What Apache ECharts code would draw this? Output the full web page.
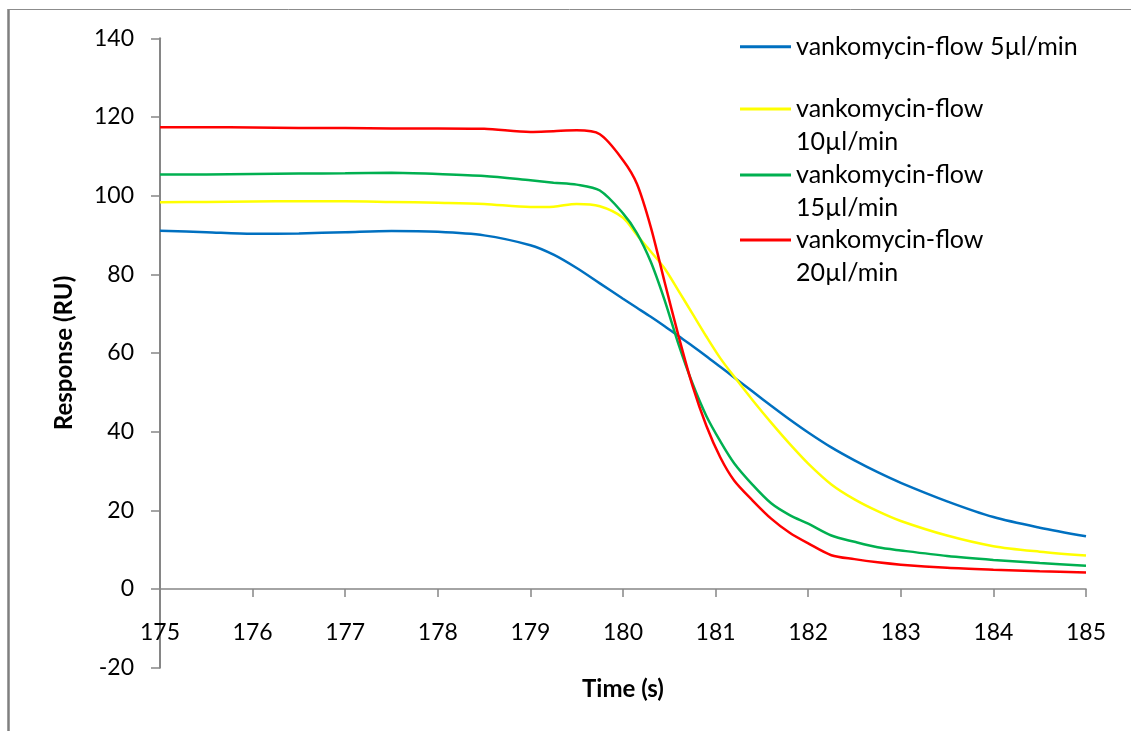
<!DOCTYPE html>
<html>
<head>
<meta charset="utf-8">
<script src="https://cdn.jsdelivr.net/npm/echarts@6/dist/echarts.min.js"></script>
<style>
  html, body { margin: 0; padding: 0; background: #ffffff; }
  #chart { width: 1131px; height: 731px; }
</style>
</head>
<body>
<div id="chart"></div>
<script>
// Sampling times (s)
const times = [175, 175.5, 176, 176.5, 177, 177.5, 178, 178.5, 179, 179.25, 179.5, 179.75,
  180, 180.15, 180.3, 180.45, 180.6, 180.75, 180.9, 181.05, 181.2, 181.4, 181.6, 181.8,
  182, 182.25, 182.5, 182.75, 183, 183.5, 184, 184.5, 185];

// Response (RU) at each flow rate
const flow5 = [91.1, 90.7, 90.3, 90.4, 90.7, 91.0, 90.8, 89.9, 87.4, 85.0, 81.6, 77.7,
  73.8, 71.5, 69.2, 66.8, 64.3, 61.8, 59.2, 56.5, 53.8, 50.2, 46.6, 43.1,
  39.8, 36.0, 32.7, 29.7, 27.0, 22.3, 18.3, 15.6, 13.4];
const flow10 = [98.3, 98.4, 98.5, 98.6, 98.6, 98.4, 98.2, 97.9, 97.1, 97.2, 97.9, 97.3,
  94.4, 90.0, 85.8, 81.5, 75.8, 70.0, 64.2, 58.7, 54.0, 48.0, 42.3, 36.9,
  31.9, 26.6, 22.8, 19.8, 17.3, 13.6, 10.9, 9.5, 8.5];
const flow15 = [105.4, 105.4, 105.5, 105.6, 105.7, 105.8, 105.5, 105.0, 103.9, 103.3, 102.8, 101.3,
  95.5, 90.5, 83.2, 73.4, 62.2, 52.3, 44.0, 37.6, 32.0, 26.5, 21.8, 18.8,
  16.6, 13.6, 12.0, 10.6, 9.8, 8.4, 7.4, 6.6, 5.9];
const flow20 = [117.4, 117.4, 117.3, 117.2, 117.2, 117.1, 117.1, 117.0, 116.2, 116.4, 116.6, 115.6,
  109.0, 103.0, 92.0, 78.0, 64.3, 51.7, 41.5, 33.5, 27.6, 22.5, 17.9, 14.3,
  11.6, 8.6, 7.6, 6.8, 6.2, 5.4, 4.9, 4.5, 4.2];

const seriesNames = ['vankomycin-flow 5µl/min', 'vankomycin-flow 10µl/min',
  'vankomycin-flow 15µl/min', 'vankomycin-flow 20µl/min'];
const seriesValues = [flow5, flow10, flow15, flow20];
const seriesColors = ['#0070C0', '#FFFF00', '#00B050', '#FF0000'];

const FONT = 'Lato';
const LINE_H = 32.5;
const axisGray = '#868686';

// plot box
const GRID_TOP = 38.3;
const GRID_BOTTOM = 63.3;
const Y_MIN = -20;
const Y_MAX = 140;
const PLOT_H = 731 - GRID_TOP - GRID_BOTTOM;

function pairs(values) {
  return times.map((t, i) => [t, values[i]]);
}

// One legend block per series; wrapped entries get a leading blank line so the
// swatch sits beside the first line of the name.
const legendCenters = [46.7, 109, 175, 240];
const legends = seriesNames.map((name, i) => {
  const wrapped = i > 0;
  const boxHeight = wrapped ? LINE_H * 3 : LINE_H;
  return {
    show: true,
    left: 740,
    top: legendCenters[i] - boxHeight / 2,
    padding: 0,
    orient: 'vertical',
    icon: 'rect',
    itemWidth: 51,
    itemHeight: 3,
    data: [{ name: name }],
    formatter: wrapped ? (n => '\n' + n.replace(' ', '\n')) : (n => n),
    textStyle: {
      fontFamily: FONT,
      fontSize: 25,
      color: '#000000',
      lineHeight: LINE_H
    }
  };
});

const chart = echarts.init(document.getElementById('chart'), null, { renderer: 'canvas' });
chart.setOption({
  animation: false,
  backgroundColor: '#ffffff',
  grid: {
    left: 160, right: 45, top: GRID_TOP, bottom: GRID_BOTTOM,
    containLabel: false, outerBoundsMode: 'none'
  },
  legend: legends,
  xAxis: {
    type: 'value',
    min: 175,
    max: 185,
    interval: 1,
    // the time axis crosses the response axis at 0
    offset: -PLOT_H * (0 - Y_MIN) / (Y_MAX - Y_MIN),
    name: 'Time (s)',
    nameLocation: 'middle',
    nameGap: 88,
    nameTextStyle: { fontFamily: FONT, fontSize: 24, fontWeight: 'bold', color: '#000000' },
    axisLine: { onZero: false, lineStyle: { color: axisGray, width: 1.5 } },
    axisTick: { show: true, inside: false, length: 8, lineStyle: { color: axisGray, width: 1.5 } },
    axisLabel: { margin: 32, fontFamily: FONT, fontSize: 23, color: '#000000' },
    splitLine: { show: false }
  },
  yAxis: {
    type: 'value',
    min: Y_MIN,
    max: Y_MAX,
    interval: 20,
    name: 'Response (RU)',
    nameLocation: 'middle',
    nameGap: 84,
    nameRotate: 90,
    nameTextStyle: { fontFamily: FONT, fontSize: 24, fontWeight: 'bold', color: '#000000' },
    axisLine: { show: true, lineStyle: { color: axisGray, width: 2 } },
    axisTick: { show: true, inside: false, length: 9, lineStyle: { color: axisGray, width: 1.5 } },
    axisLabel: { margin: 26, fontFamily: FONT, fontSize: 23, color: '#000000' },
    splitLine: { show: false }
  },
  series: seriesNames.map((name, i) => ({
    name: name,
    type: 'line',
    data: pairs(seriesValues[i]),
    smooth: 0.3,
    symbol: 'none',
    color: seriesColors[i],
    lineStyle: { color: seriesColors[i], width: 2.5 },
    z: 2 + i
  })),
  graphic: [
    // chart-area frame: left and top edges
    { type: 'line', shape: { x1: 8.5, y1: 9, x2: 8.5, y2: 731 }, style: { stroke: '#7f7f7f', lineWidth: 2.5 } },
    { type: 'line', shape: { x1: 8, y1: 9.5, x2: 1131, y2: 9.5 }, style: { stroke: '#8c8c8c', lineWidth: 1 } }
  ]
});
</script>
</body>
</html>
